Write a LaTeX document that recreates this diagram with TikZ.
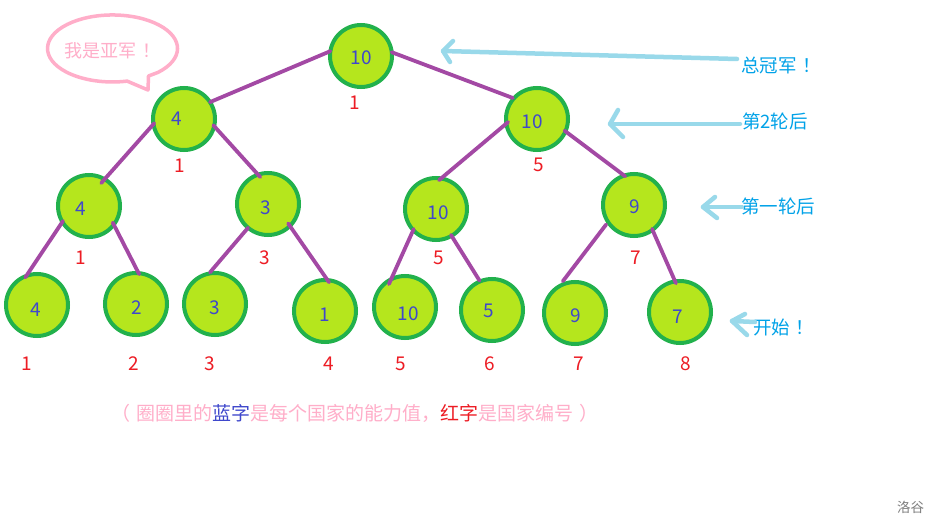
\documentclass[tikz,border=0pt]{standalone}
\usepackage{fontspec}
\setmainfont{Noto Sans CJK SC}
\usetikzlibrary{calc}
\definecolor{ringc}{HTML}{22B14C}
\definecolor{fillc}{HTML}{B5E61D}
\definecolor{numc}{HTML}{3F48CC}
\definecolor{edgec}{HTML}{A349A4}
\definecolor{redc}{HTML}{ED1C24}
\definecolor{pinkc}{HTML}{FFAEC9}
\definecolor{arrc}{HTML}{99D9EA}
\definecolor{arrtxt}{HTML}{00A2E8}
\definecolor{grayc}{HTML}{7F7F7F}
\begin{document}
\begin{tikzpicture}[x=1pt,y=-1pt,
 ball/.style={circle, draw=ringc, fill=fillc, line width=4pt, minimum size=62pt, inner sep=0pt},
 num/.style={text=numc, font=\fontsize{19pt}{21pt}\selectfont, inner sep=0pt},
 idx/.style={text=redc, font=\fontsize{19pt}{21pt}\selectfont, inner sep=0pt},
 edgeline/.style={draw=edgec, line width=3.8pt, line cap=round},
 arr/.style={draw=arrc, line width=4.5pt, line cap=round, line join=round},
 note/.style={text=arrtxt, font=\fontsize{18.5pt}{20pt}\selectfont, inner sep=0pt, anchor=west},
]
\path[use as bounding box, fill=white] (0,0) rectangle (938,527);

% speech bubble
\draw[pinkc, line width=3.5pt, line join=round] (158,72.4) arc[start angle=-45.6, end angle=283, x radius=65pt, y radius=33.5pt] -- (148,90) -- (148.5,76) -- cycle;
\node[text=pinkc, font=\fontsize{18pt}{20pt}\selectfont, inner sep=0pt] (bub) at (112.5,50.5) {我是亚军\kern.3em！};

% circles
\node[ball] (r) at (361,56) {};
\node[ball] (a) at (184,119) {};
\node[ball] (b) at (537,119) {};
\node[ball] (c) at (89,206) {};
\node[ball] (d) at (268,204) {};
\node[ball] (e) at (436,209) {};
\node[ball] (f) at (634,205) {};
\node[ball] (g1) at (37,305) {};
\node[ball] (g2) at (136,304) {};
\node[ball] (g3) at (215,304) {};
\node[ball] (g4) at (325,311) {};
\node[ball] (g5) at (405,307) {};
\node[ball] (g6) at (492,310) {};
\node[ball] (g7) at (575,313) {};
\node[ball] (g8) at (680,312) {};

% values
\node[num] (rv) at (361,58) {10};
\node[num] (av) at (177,119) {4};
\node[num] (bv) at (532,122) {10};
\node[num] (cv) at (81,209) {4};
\node[num] (dv) at (265.5,208) {3};
\node[num] (ev) at (438,213) {10};
\node[num] (fv) at (635,207) {9};
\node[num] (g1v) at (35.5,310) {4};
\node[num] (g2v) at (137,308) {2};
\node[num] (g3v) at (215,308) {3};
\node[num] (g4v) at (325,315) {1};
\node[num] (g5v) at (408,314) {10};
\node[num] (g6v) at (489,311) {5};
\node[num] (g7v) at (575.5,316) {9};
\node[num] (g8v) at (678,317) {7};

% edges
\draw[edgeline] ($(r)+(171:31pt)$) -- ($(a)+(33:31pt)$);
\draw[edgeline] ($(r)+(7:31pt)$) -- ($(b)+(139:32pt)$);
\draw[edgeline] ($(a)+(188:30pt)$) -- ($(c)+(62:26pt)$);
\draw[edgeline] ($(a)+(348:30pt)$) -- ($(d)+(106:28pt)$);
\draw[edgeline] ($(b)+(186:29pt)$) -- ($(e)+(84:29pt)$);
\draw[edgeline] ($(b)+(337:30pt)$) -- ($(f)+(107:30pt)$);
\draw[edgeline] ($(c)+(210:30pt)$) -- ($(g1)+(113:30pt)$);
\draw[edgeline] ($(c)+(325:29pt)$) -- ($(g2)+(84:30pt)$);
\draw[edgeline] ($(d)+(230:31pt)$) -- ($(g3)+(99:32pt)$);
\draw[edgeline] ($(d)+(316:28pt)$) -- ($(g4)+(82:29pt)$);
\draw[edgeline] ($(e)+(222:30pt)$) -- ($(g5)+(125:28pt)$);
\draw[edgeline] ($(e)+(300:30pt)$) -- ($(g6)+(113:32pt)$);
\draw[edgeline] ($(f)+(215:34pt)$) -- ($(g7)+(111:34pt)$);
\draw[edgeline] ($(f)+(307:30pt)$) -- ($(g8)+(98:29pt)$);

% red indices
\node[idx] (ri) at (355,103) {1};
\node[idx] (ai) at (180,165.5) {1};
\node[idx] (bi) at (539,165) {5};
\node[idx] (ci) at (80.5,258) {1};
\node[idx] (di) at (265,258) {3};
\node[idx] (ei) at (438.5,258) {5};
\node[idx] (fi) at (635.5,258) {7};
\node[idx] (g1i) at (26.5,364) {1};
\node[idx] (g2i) at (133.5,364) {2};
\node[idx] (g3i) at (210,364) {3};
\node[idx] (g4i) at (329,364) {4};
\node[idx] (g5i) at (400.5,364) {5};
\node[idx] (g6i) at (489.5,364) {6};
\node[idx] (g7i) at (578.5,364) {7};
\node[idx] (g8i) at (685.5,364) {8};

% notes and arrows
\node[note] (n1) at (741,65) {总冠军\kern.3em！};
\node[note] (n2) at (742,121) {第2轮后};
\node[note] (n3) at (741,206) {第一轮后};
\node[note] (n4) at (753,327) {开始\kern.3em！};

\coordinate (h1) at (443,51); \coordinate (h1a) at (453,41); \coordinate (h1b) at (450,62);
\coordinate (h2) at (610,124); \coordinate (h2a) at (618,110); \coordinate (h2b) at (623,137);
\coordinate (h3) at (703,207); \coordinate (h3a) at (715,197); \coordinate (h3b) at (717,218);
\coordinate (h4) at (732,321); \coordinate (h4a) at (745,314); \coordinate (h4b) at (747,335);

\draw[arr] ($(n1.west)+(-4pt,6pt)$) -- (h1);
\draw[arr] (h1a) -- (h1) -- (h1b);
\draw[arr] ($(n2.west)+(-2pt,-3pt)$) -- (h2);
\draw[arr] (h2a) -- (h2) -- (h2b);
\draw[arr] ($(n3.west)+(1pt,-1pt)$) -- (h3);
\draw[arr] (h3a) -- (h3) -- (h3b);
\draw[arr] ($(n4.west)+(2pt,5pt)$) -- (h4);
\draw[arr] (h4a) -- (h4) -- (h4b);

% footnote
\node[text=pinkc, font=\fontsize{19pt}{21pt}\selectfont, inner sep=0pt] (foot) at (355,413) {（\kern.3em圈圈里的\textcolor{numc}{蓝字}是每个国家的能力值，\textcolor{redc}{红字}是国家编号\kern.3em）};
\node[text=grayc, font=\fontsize{13.5pt}{15pt}\selectfont, inner sep=0pt] (wm) at (910.5,507) {洛谷};
\end{tikzpicture}
\end{document}
